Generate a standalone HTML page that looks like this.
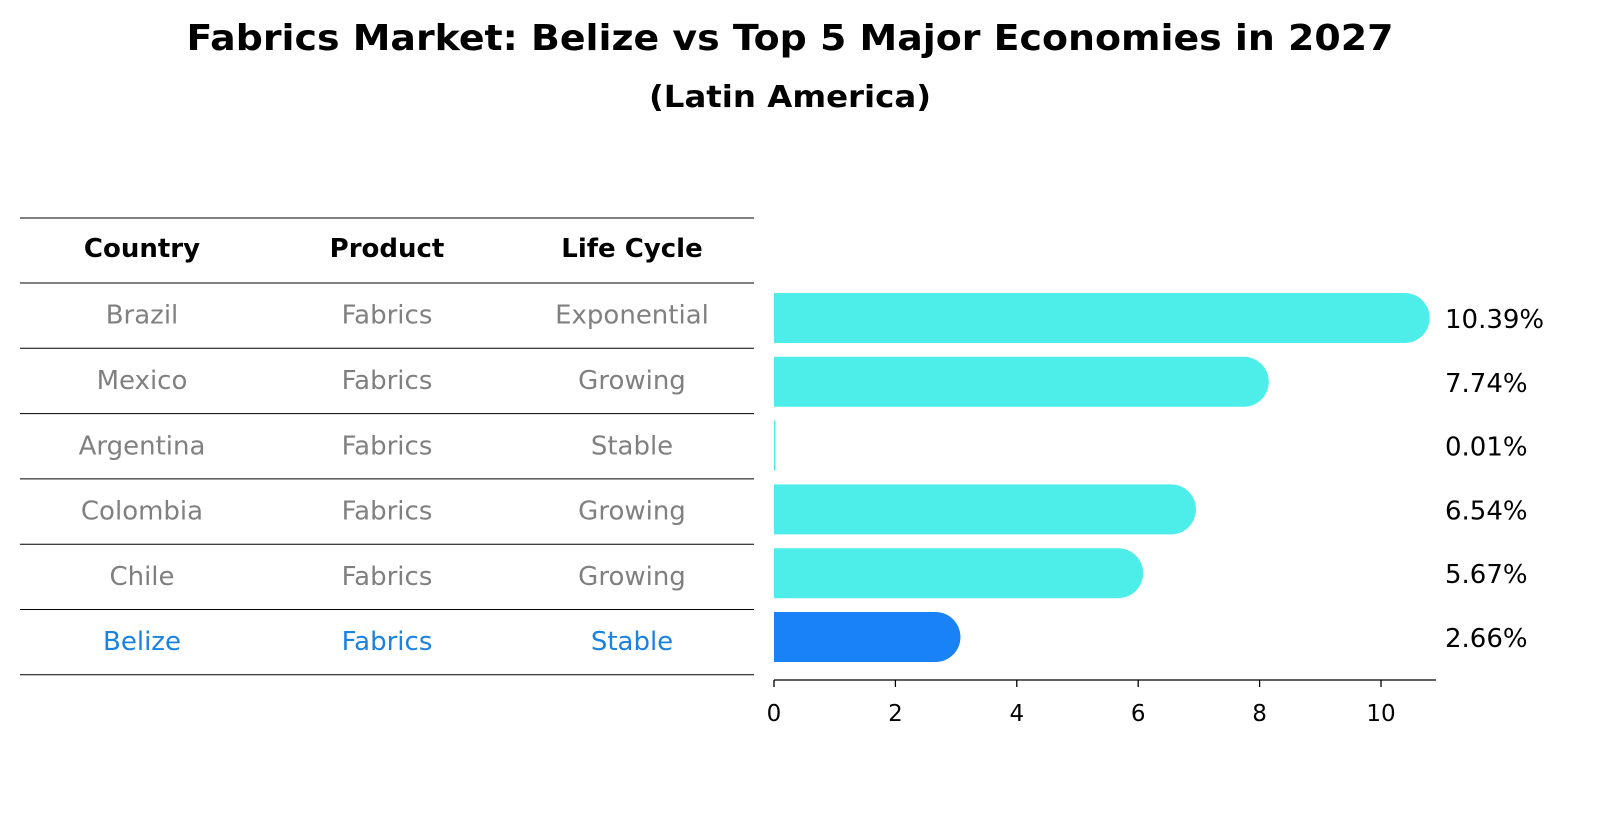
<!DOCTYPE html>
<html><head><meta charset="utf-8"><style>
body{margin:0;background:#fff;font-family:"Liberation Sans","DejaVu Sans",sans-serif}
</style></head><body>
<svg width="1604" height="823" xmlns="http://www.w3.org/2000/svg" font-family="DejaVu Sans, Liberation Sans, sans-serif">
<text x="790" y="50" text-anchor="middle" font-size="36" font-weight="bold" textLength="1207" lengthAdjust="spacingAndGlyphs">Fabrics Market: Belize vs Top 5 Major Economies in 2027</text>
<text x="790" y="107" text-anchor="middle" font-size="30" font-weight="bold" textLength="282" lengthAdjust="spacingAndGlyphs">(Latin America)</text>
<g id="table"></g>
<g id="bars"></g>
<g id="axis"></g>
</svg>
<script>
const countries=["Brazil","Mexico","Argentina","Colombia","Chile","Belize"];
const products=["Fabrics","Fabrics","Fabrics","Fabrics","Fabrics","Fabrics"];
const cycles=["Exponential","Growing","Stable","Growing","Growing","Stable"];
const values=[10.39,7.74,0.01,6.54,5.67,2.66];
const ticks=[0,2,4,6,8,10];
const NS="http://www.w3.org/2000/svg";
function mk(t,a,p){const e=document.createElementNS(NS,t);for(const k in a)e.setAttribute(k,a[k]);p.appendChild(e);return e;}
const x=v=>774+v*60.7;
const rowTop=283,rowH=65.3;
const tbl=document.getElementById('table');
const cols=[142,387,632];
["Country","Product","Life Cycle"].forEach((h,i)=>{const t=mk('text',{x:cols[i],y:257,'text-anchor':'middle','font-size':26,'font-weight':'bold'},tbl);t.textContent=h;

});
for(let i=0;i<=countries.length+1;i++){const y=i==0?218:rowTop+(i-1)*rowH;const l=mk('line',{x1:20,x2:754,y1:y,y2:y,stroke:'#000','stroke-width':1},tbl);

}
countries.forEach((c,i)=>{const cy=rowTop+i*rowH+rowH/2+8;const col=c==="Belize"?'#1a82e0':'#808080';
[c,products[i],cycles[i]].forEach((s,j)=>{const t=mk('text',{x:cols[j],y:cy,'text-anchor':'middle','font-size':26,fill:col},tbl);t.textContent=s;

});});
const bars=document.getElementById('bars');
values.forEach((v,i)=>{const cy=318+i*63.8;const h=50;const fill=countries[i]==="Belize"?'#1a82f7':'#4deeea';
const w=x(v)-774;
let b;
if(v<0.5){b=mk('rect',{x:774,y:cy-h/2,width:Math.max(w,1.5),height:h,fill:fill},bars);}
else{const r=h/2;b=mk('path',{d:`M774 ${cy-r} H${x(v)} A${r} ${r} 0 0 1 ${x(v)} ${cy+r} H774 Z`,fill:fill},bars);}


const t=mk('text',{x:1445,y:cy+10,'font-size':26},bars);t.textContent=v.toFixed(2)+'%';

});
const ax=document.getElementById('axis');
mk('line',{x1:774,x2:1436,y1:680,y2:680,stroke:'#000','stroke-width':1.3},ax);
ticks.forEach(v=>{mk('line',{x1:x(v),x2:x(v),y1:680,y2:687,stroke:'#000','stroke-width':1.3},ax);
const t=mk('text',{x:x(v),y:721,'text-anchor':'middle','font-size':23},ax);t.textContent=v;

});
</script>
</body></html>
